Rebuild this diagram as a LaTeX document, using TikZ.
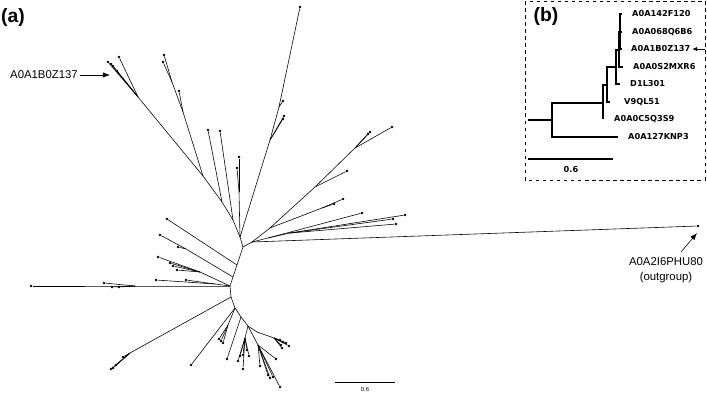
\documentclass[tikz,border=0pt]{standalone}
\usepackage{fontspec}
\setmainfont{Liberation Sans}
\newfontfamily\fonteb{DejaVu Sans}
\usetikzlibrary{arrows.meta,positioning}

\begin{document}
\begin{tikzpicture}[
x=0.03cm, y=-0.03cm,
ramo/.style={line width=0.5pt},
ramob/.style={line width=1pt},
folha/.style={circle, fill, inner sep=0pt, minimum size=2.3pt},
rotulo/.style={font=\fontsize{9.7}{12.6}\selectfont, align=center, inner sep=0pt},
rotulob/.style={font=\fonteb\bfseries\fontsize{7}{9}\selectfont, anchor=west, inner sep=0pt},
painel/.style={font=\bfseries\fontsize{16.5}{18}\selectfont, inner sep=0pt},
seta/.style={-{Latex[length=6pt, width=4.5pt]}, line width=0.5pt},
setab/.style={-{Latex[length=4pt, width=3.5pt]}, line width=0.5pt}
]
\useasboundingbox (0,0) rectangle (707,392);

% (a) arvore nao enraizada
\node[painel] (pa) at (13,18) {(a)};

\coordinate (t0) at (240,237);
\coordinate (r0) at (243,247);
\coordinate (j1) at (252,242);
\coordinate (b2) at (237,265);
\coordinate (b3) at (233,277);
\coordinate (b4) at (230,286);
\coordinate (b5) at (231,297);
\coordinate (b6) at (235,308);
\coordinate (b7) at (241,317);
\coordinate (b8) at (248,326);
\coordinate (b9) at (257,332);
\draw[ramo] (t0) -- (r0) -- (b2) -- (b3) -- (b4) -- (b5) -- (b6) -- (b7) -- (b8) -- (b9);
\draw[ramo] (r0) -- (j1);

% topo
\coordinate (t1) at (239,192);
\node[folha] (f1) at (237,168) {};
\node[folha] (f2) at (239,157) {};
\draw[ramo] (t0) -- (t1);
\draw[ramo] (t1) -- (f1);
\draw[ramo] (t1) -- (f2);

\coordinate (g1) at (270,140);
\coordinate (g2) at (279,107);
\node[folha] (f3) at (284,116) {};
\node[folha] (f4) at (283,119) {};
\node[folha] (f5) at (283,101) {};
\node[folha] (f6) at (300,7) {};
\draw[ramo] (t0) -- (g1) -- (g2) -- (f6);
\draw[ramo] (g1) -- (f3);
\draw[ramo] (g1) -- (f4);
\draw[ramo] (g2) -- (f5);

\coordinate (a1) at (233,220);
\coordinate (a2) at (222,202);
\coordinate (a3) at (203,176);
\coordinate (a4) at (138,97);
\coordinate (a5) at (183,112);
\coordinate (a6) at (172,82);
\node[folha] (f7) at (220,131) {};
\node[folha] (f8) at (208,130) {};
\node[folha] (f9) at (119,57) {};
\node[folha] (f10) at (108,62) {};
\node[folha] (f11) at (111,64) {};
\node[folha] (f12) at (113,66) {};
\node[folha] (f13) at (117,71) {};
\node[folha] (f14) at (179,91) {};
\node[folha] (f15) at (164,55) {};
\node[folha] (f16) at (163,62) {};
\draw[ramo] (t0) -- (a1) -- (a2) -- (a3) -- (a4);
\draw[ramo] (a1) -- (f7);
\draw[ramo] (a2) -- (f8);
\draw[ramo] (a4) -- (f9);
\draw[ramo] (a4) -- (f10);
\draw[ramo] (a4) -- (f11);
\draw[ramo] (a4) -- (f12);
\draw[ramo] (a4) -- (f13);
\draw[ramo] (a3) -- (a5) -- (a6);
\draw[ramo] (a5) -- (f14);
\draw[ramo] (a6) -- (f15);
\draw[ramo] (a6) -- (f16);

% direita
\coordinate (c1) at (268,238);
\coordinate (c2) at (290,233);
\coordinate (d1) at (270,228);
\coordinate (d2) at (322,208);
\coordinate (d3) at (315,187);
\coordinate (d4) at (355,148);
\node[folha] (og) at (698,226) {};
\node[folha] (f17) at (362,213) {};
\node[folha] (f18) at (405,215) {};
\node[folha] (f19) at (393,219) {};
\node[folha] (f20) at (396,224) {};
\node[folha] (f21) at (343,199) {};
\node[folha] (f22) at (334,204) {};
\node[folha] (f23) at (347,171) {};
\node[folha] (f24) at (370,132) {};
\node[folha] (f25) at (368,134) {};
\node[folha] (f26) at (392,127) {};
\draw[ramo] (j1) -- (og);
\draw[ramo] (j1) -- (c1) -- (f17);
\draw[ramo] (c1) -- (c2);
\draw[ramo] (c2) -- (f18);
\draw[ramo] (c2) -- (f19);
\draw[ramo] (c2) -- (f20);
\draw[ramo] (j1) -- (d1) -- (d2);
\draw[ramo] (d2) -- (f21);
\draw[ramo] (d2) -- (f22);
\draw[ramo] (d1) -- (d3) -- (d4);
\draw[ramo] (d3) -- (f23);
\draw[ramo] (d4) -- (f24);
\draw[ramo] (d4) -- (f25);
\draw[ramo] (d4) -- (f26);

% esquerda
\coordinate (n1) at (186,249);
\coordinate (n2) at (200,272);
\coordinate (n3) at (215,284);
\coordinate (n4) at (135,286);
\coordinate (n5) at (130,353);
\node[folha] (f27) at (167,219) {};
\node[folha] (f28) at (160,235) {};
\node[folha] (f29) at (178,247) {};
\node[folha] (f30) at (158,257) {};
\node[folha] (f31) at (170,263) {};
\node[folha] (f32) at (173,266) {};
\node[folha] (f33) at (177,270) {};
\node[folha] (f34) at (156,280) {};
\node[folha] (f35) at (186,280) {};
\node[folha] (f36) at (31,286) {};
\node[folha] (f37) at (104,283) {};
\node[folha] (f38) at (112,287) {};
\node[folha] (f39) at (119,287) {};
\node[folha] (f40) at (113,368) {};
\node[folha] (f41) at (116,365) {};
\node[folha] (f42) at (111,369) {};
\node[folha] (f43) at (123,357) {};
\draw[ramo] (b2) -- (f27);
\draw[ramo] (b3) -- (n1) -- (f28);
\draw[ramo] (n1) -- (f29);
\draw[ramo] (b4) -- (n2) -- (f30);
\draw[ramo] (n2) -- (f31);
\draw[ramo] (n2) -- (f32);
\draw[ramo] (n2) -- (f33);
\draw[ramo] (b4) -- (n3) -- (f34);
\draw[ramo] (n3) -- (f35);
\draw[ramo] (b4) -- (n4) -- (f36);
\draw[ramo] (n4) -- (f37);
\draw[ramo] (n4) -- (f38);
\draw[ramo] (n4) -- (f39);
\draw[ramo] (b5) -- (n5) -- (f40);
\draw[ramo] (n5) -- (f41);
\draw[ramo] (n5) -- (f42);
\draw[ramo] (n5) -- (f43);

% baixo
\coordinate (n6) at (228,325);
\coordinate (n7) at (245,338);
\coordinate (n8) at (258,345);
\coordinate (n9) at (274,338);
\node[folha] (f44) at (191,365) {};
\node[folha] (f45) at (221,341) {};
\node[folha] (f46) at (223,343) {};
\node[folha] (f47) at (219,339) {};
\node[folha] (f48) at (227,359) {};
\node[folha] (f49) at (238,361) {};
\node[folha] (f50) at (240,356) {};
\node[folha] (f51) at (243,355) {};
\node[folha] (f52) at (243,369) {};
\node[folha] (f53) at (247,350) {};
\node[folha] (f54) at (249,356) {};
\node[folha] (f55) at (260,366) {};
\node[folha] (f56) at (268,375) {};
\node[folha] (f57) at (270,378) {};
\node[folha] (f58) at (273,377) {};
\node[folha] (f59) at (276,359) {};
\node[folha] (f60) at (280,387) {};
\node[folha] (f61) at (280,340) {};
\node[folha] (f62) at (283,342) {};
\node[folha] (f63) at (286,343) {};
\node[folha] (f64) at (289,346) {};
\node[folha] (f65) at (281,345) {};
\node[folha] (f66) at (282,348) {};
\draw[ramo] (b6) -- (f44);
\draw[ramo] (b6) -- (n6) -- (f45);
\draw[ramo] (n6) -- (f46);
\draw[ramo] (n6) -- (f47);
\draw[ramo] (b7) -- (f48);
\draw[ramo] (b8) -- (n7) -- (f49);
\draw[ramo] (n7) -- (f50);
\draw[ramo] (n7) -- (f51);
\draw[ramo] (n7) -- (f52);
\draw[ramo] (n7) -- (f53);
\draw[ramo] (n7) -- (f54);
\draw[ramo] (b8) -- (n8) -- (f55);
\draw[ramo] (n8) -- (f56);
\draw[ramo] (n8) -- (f57);
\draw[ramo] (n8) -- (f58);
\draw[ramo] (n8) -- (f59);
\draw[ramo] (n8) -- (f60);
\draw[ramo] (b9) -- (n9) -- (f61);
\draw[ramo] (n9) -- (f62);
\draw[ramo] (n9) -- (f63);
\draw[ramo] (n9) -- (f64);
\draw[ramo] (n9) -- (f65);
\draw[ramo] (n9) -- (f66);

% rotulos e setas
\node[rotulo, inner sep=1.5pt] (rz137) at (44,75) {A0A1B0Z137};
\coordinate (alvo) at (110,75);
\draw[seta] (rz137) -- (alvo);
\node[rotulo] (rog) at (666,270) {A0A2I6PHU80\\(outgroup)};
\coordinate (ogpe) at (681,252);
\coordinate (ogponta) at (697,233);
\draw[seta] (ogpe) -- (ogponta);

\coordinate (e1) at (335,382);
\coordinate (e2) at (395,382);
\draw[line width=0.5pt] (e1) -- (e2);
\node[font=\fontsize{5}{6}\selectfont, inner sep=0pt] (escala) at (365,389) {0.6};

% (b) detalhe
\draw[dashed, line width=0.5pt] (525,1) rectangle (705,180);
\node[painel] (pb) at (546,17) {(b)};

\coordinate (ir) at (528,120);
\coordinate (i1) at (552,120);
\coordinate (i2) at (603,103);
\coordinate (i3) at (607,85);
\coordinate (i4) at (616,67);
\coordinate (i5) at (619,50);
\coordinate (i6) at (620,32);
\coordinate (knp3) at (618,137);
\coordinate (c5q) at (603,119);
\coordinate (v9) at (610,102);
\coordinate (d1l) at (620,84);
\coordinate (mxr6) at (623,67);
\coordinate (f120) at (622,14);
\coordinate (q6b6) at (622,32);
\coordinate (z137) at (622,49);
\draw[ramob] (ir) -- (i1);
\draw[ramob] (i1) |- (i2);
\draw[ramob] (i1) |- (knp3);
\draw[ramob] (i2) |- (i3);
\draw[ramob] (i2) -- (c5q);
\draw[ramob] (i3) |- (i4);
\draw[ramob] (i3) |- (v9);
\draw[ramob] (i4) |- (i5);
\draw[ramob] (i4) |- (d1l);
\draw[ramob] (i5) |- (i6);
\draw[ramob] (i5) |- (mxr6);
\draw[ramob] (i6) |- (f120);
\draw[ramob] (i6) -- (q6b6);
\draw[ramob] (i6) |- (z137);

\node[rotulob] (lf120) at (632,14) {A0A142F120};
\node[rotulob] (lq6b6) at (632,32) {A0A068Q6B6};
\node[rotulob] (lz137) at (631,49) {A0A1B0Z137};
\node[rotulob] (lmxr6) at (633,67) {A0A0S2MXR6};
\node[rotulob] (ld1l) at (630,84) {D1L301};
\node[rotulob] (lv9) at (624,102) {V9QL51};
\node[rotulob] (lc5q) at (614,119) {A0A0C5Q3S9};
\node[rotulob] (lknp3) at (628,137) {A0A127KNP3};

\coordinate (bseta) at (705,49);
\draw[setab] (bseta) -- ([xshift=1.5pt]lz137.east);

\coordinate (s1) at (528,159);
\coordinate (s2) at (613,159);
\draw[ramob] (s1) -- (s2);
\node[rotulob, anchor=center] (escalab) at (571,170) {0.6};
\end{tikzpicture}
\end{document}
